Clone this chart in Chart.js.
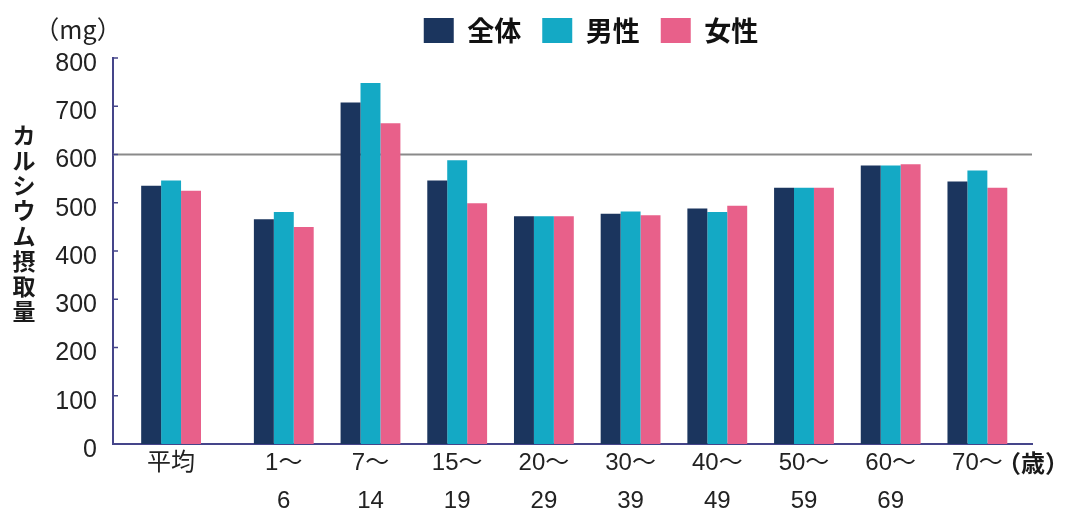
<!DOCTYPE html>
<html>
<head>
<meta charset="utf-8">
<script src="https://cdn.jsdelivr.net/npm/chart.js@4/dist/chart.umd.min.js"></script>
<style>
  html, body { margin: 0; padding: 0; background: #ffffff; }
  #wrap { width: 1069px; height: 514px; position: relative; }
</style>
</head>
<body>
<div id="wrap"><canvas id="c" width="1069" height="514"></canvas></div>
<script>
// ---- data ----
const categories = [['平均'], ['1〜', '6'], ['7〜', '14'], ['15〜', '19'], ['20〜', '29'], ['30〜', '39'], ['40〜', '49'], ['50〜', '59'], ['60〜', '69'], ['70〜']];
const seriesNames = ['全体', '男性', '女性'];
const totalValues  = [535, 466, 708, 546, 472, 477, 488, 531, 577, 544];
const maleValues   = [546, 481, 748, 588, 472, 482, 481, 531, 577, 567];
const femaleValues = [525, 450, 665, 499, 472, 474, 494, 531, 580, 531];
const yTickValues = [0, 100, 200, 300, 400, 500, 600, 700, 800];
const referenceValue = 600;
const yTitle = 'カルシウム摂取量';
const yUnit = '（mg）';
const xUnit = '（歳）';

// ---- styles / layout ----
const COLORS = ['#1b355e', '#14a9c5', '#e8608a'];
const AXIS_COLOR = '#45458a';
const TEXT_COLOR = '#222222';
const JP = '"Noto Sans CJK JP", sans-serif';
const LAT = '"Liberation Sans", "Noto Sans CJK JP", sans-serif';
const FIRST_GROUP_GAP = 0.3;   // extra space after the first (average) group, in slots
const LEFT_SLOTS = 0.67;
const RIGHT_SLOTS = 0.63;

// Category scale that leaves a wider gap after the first group
class GapCategoryScale extends Chart.CategoryScale {
  getPixelForValue(value) {
    if (typeof value !== 'number') value = this.parse(value);
    if (value === null || value === undefined) return NaN;
    const n = this.getLabels().length;
    const total = LEFT_SLOTS + (n - 1) + FIRST_GROUP_GAP + RIGHT_SLOTS;
    const u = LEFT_SLOTS + value + (value >= 1 ? FIRST_GROUP_GAP : 0);
    return this.getPixelForDecimal(u / total);
  }
}
GapCategoryScale.id = 'gapcategory';
GapCategoryScale.defaults = Chart.CategoryScale.defaults;
Chart.register(GapCategoryScale);

const decorPlugin = {
  id: 'decor',
  afterLayout(chart) {
    const lg = chart.legend;
    if (lg) {
      lg.left += 75; lg.right += 75;
      lg.top -= 4; lg.bottom -= 4;
    }
  },
  beforeDatasetsDraw(chart) {
    const { ctx, chartArea, scales } = chart;
    const py = scales.y.getPixelForValue(referenceValue);
    ctx.save();
    ctx.strokeStyle = '#8a8a8a';
    ctx.lineWidth = 2;
    ctx.beginPath();
    ctx.moveTo(chartArea.left, py);
    ctx.lineTo(chartArea.right, py);
    ctx.stroke();
    ctx.restore();
  },
  afterDraw(chart) {
    const { ctx, chartArea, scales } = chart;
    ctx.save();
    // inward tick marks on the y axis
    ctx.strokeStyle = AXIS_COLOR;
    ctx.lineWidth = 1.5;
    scales.y.ticks.forEach((t, i) => {
      if (t.value === 0) return;
      const py = scales.y.getPixelForTick(i);
      ctx.beginPath();
      ctx.moveTo(chartArea.left, py);
      ctx.lineTo(chartArea.left + 5, py);
      ctx.stroke();
    });
    // vertical y title
    ctx.fillStyle = '#1a1a1a';
    ctx.font = 'bold 23px ' + JP;
    ctx.textAlign = 'center';
    ctx.textBaseline = 'middle';
    Array.from(yTitle).forEach((ch, i) => {
      ctx.fillText(ch, 24, 135 + i * 25.2);
    });
    // unit labels
    ctx.font = '25px ' + JP;
    ctx.fillStyle = TEXT_COLOR;
    ctx.textAlign = 'center';
    ctx.fillText(yUnit, 78, 29);
    ctx.font = 'bold 24px ' + JP;
    ctx.fillStyle = '#1a1a1a';
    ctx.textAlign = 'right';
    ctx.fillText(xUnit, 1069, 463);
    ctx.restore();
  }
};

const data = {
  labels: categories,
  datasets: [
    { label: seriesNames[0], data: totalValues,  backgroundColor: COLORS[0], borderWidth: 0 },
    { label: seriesNames[1], data: maleValues,   backgroundColor: COLORS[1], borderWidth: 0 },
    { label: seriesNames[2], data: femaleValues, backgroundColor: COLORS[2], borderWidth: 0 }
  ]
};

new Chart(document.getElementById('c'), {
  type: 'bar',
  data,
  plugins: [decorPlugin],
  options: {
    responsive: false,
    animation: false,
    devicePixelRatio: 1,
    layout: { padding: { left: 0, right: 37, top: 0, bottom: 0 } },
    datasets: { bar: { categoryPercentage: 0.69, barPercentage: 1.0 } },
    plugins: {
      legend: {
        position: 'top',
        align: 'center',
        labels: {
          boxWidth: 30,
          boxHeight: 25,
          padding: 21,
          color: '#111111',
          font: { size: 27, weight: 'bold', family: JP }
        }
      },
      tooltip: { enabled: false }
    },
    scales: {
      x: {
        type: 'gapcategory',
        offset: true,
        grid: { display: false, drawTicks: false },
        border: { display: true, color: AXIS_COLOR, width: 2 },
        ticks: {
          color: TEXT_COLOR,
          padding: 0,
          maxRotation: 0,
          autoSkip: false,
          font: { size: 24, family: LAT, lineHeight: 1.6 }
        },
        afterFit(scale) { scale.height = 70; }
      },
      y: {
        min: 0,
        max: 800,
        grid: { display: false, drawTicks: false },
        border: { display: true, color: AXIS_COLOR, width: 2 },
        afterBuildTicks(scale) {
          scale.ticks = yTickValues.map(v => ({ value: v }));
        },
        ticks: {
          color: TEXT_COLOR,
          padding: 16,
          labelOffset: 6,
          font: { size: 25, family: LAT }
        },
        afterFit(scale) { scale.width = 113; }
      }
    }
  }
});
</script>
</body>
</html>
